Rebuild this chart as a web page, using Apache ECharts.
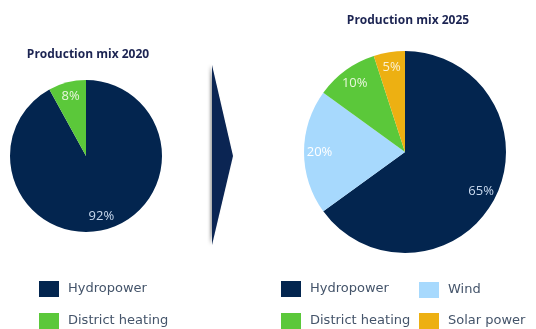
<!DOCTYPE html>
<html>
<head>
<meta charset="utf-8">
<script src="https://cdn.jsdelivr.net/npm/echarts@6/dist/echarts.min.js"></script>
<style>html,body{margin:0;padding:0;background:#fff}#c{width:536px;height:329px}</style>
</head>
<body>
<div id="c"></div>
<script>
const names2020 = ['Hydropower', 'District heating'];
const values2020 = [92, 8];
const names2025 = ['Hydropower', 'Wind', 'District heating', 'Solar power'];
const values2025 = [65, 20, 10, 5];
const title2020 = 'Production mix 2020';
const title2025 = 'Production mix 2025';

const colors = {
  'Hydropower': '#03254f',
  'District heating': '#5bc83a',
  'Wind': '#a7d9fd',
  'Solar power': '#edb012'
};
const labelColors = {
  'Hydropower': '#c9d9ee',
  'District heating': '#e8f7dc',
  'Wind': '#ffffff',
  'Solar power': '#fbf0d0'
};

function items(names, vals) {
  return names.map((n, i) => ({ name: n, value: vals[i], itemStyle: { color: colors[n] } }));
}
function labelItems(names, vals) {
  return names.map((n, i) => ({ name: n, value: vals[i], label: { color: labelColors[n] } }));
}

const legendText = { fontFamily: 'DejaVu Sans', fontSize: 13, color: '#44546a', padding: [3, 0, 0, 4] };
// [name, left, top]
const legendSlots = [
  ['Hydropower', 39, 281], ['District heating', 39, 313],
  ['Hydropower', 281, 281], ['District heating', 281, 313],
  ['Wind', 419, 282], ['Solar power', 419, 313]
];
const legends = legendSlots.map(s => ({
  data: [s[0]], left: s[1], top: s[2], itemWidth: 20, itemHeight: 16, icon: 'rect',
  padding: 0, textStyle: legendText, selectedMode: false
}));

const chart = echarts.init(document.getElementById('c'));
chart.setOption({
  animation: false,
  title: [
    { text: title2020, left: 83, top: 44, textAlign: 'center',
      textStyle: { fontFamily: 'Open Sans', fontWeight: 'bold', fontSize: 12, color: '#1c2452' } },
    { text: title2025, left: 403, top: 10, textAlign: 'center',
      textStyle: { fontFamily: 'Open Sans', fontWeight: 'bold', fontSize: 12, color: '#1c2452' } }
  ],
  legend: legends,
  graphic: [
    { type: 'polygon', shape: { points: [[212, 65], [233, 156], [212, 245]] },
      style: { fill: '#0b2553', shadowBlur: 3, shadowColor: 'rgba(0,0,0,0.35)', shadowOffsetX: -2 } }
  ],
  series: [
    { type: 'pie', center: [86, 156], radius: [0, 76], startAngle: 90, clockwise: true,
      data: items(names2020, values2020), label: { show: false }, labelLine: { show: false },
      itemStyle: { borderWidth: 0 }, emphasis: { disabled: true } },
    { type: 'pie', center: [405, 152], radius: [0, 101], startAngle: 90, clockwise: true,
      data: items(names2025, values2025), label: { show: false }, labelLine: { show: false },
      itemStyle: { borderWidth: 0 }, emphasis: { disabled: true } },
    { type: 'pie', center: [86, 156], radius: [42, 76], startAngle: 90, clockwise: true, silent: true,
      data: labelItems(names2020, values2020), itemStyle: { color: 'rgba(0,0,0,0)' },
      label: { show: true, position: 'inside', formatter: '{c}%', fontFamily: 'Open Sans', fontSize: 13 },
      labelLine: { show: false }, emphasis: { disabled: true } },
    { type: 'pie', center: [405, 152], radius: [64, 101], startAngle: 90, clockwise: true, silent: true,
      data: labelItems(names2025, values2025), itemStyle: { color: 'rgba(0,0,0,0)' },
      label: { show: true, position: 'inside', formatter: '{c}%', fontFamily: 'Open Sans', fontSize: 13 },
      labelLine: { show: false }, emphasis: { disabled: true } }
  ]
});
</script>
</body>
</html>
